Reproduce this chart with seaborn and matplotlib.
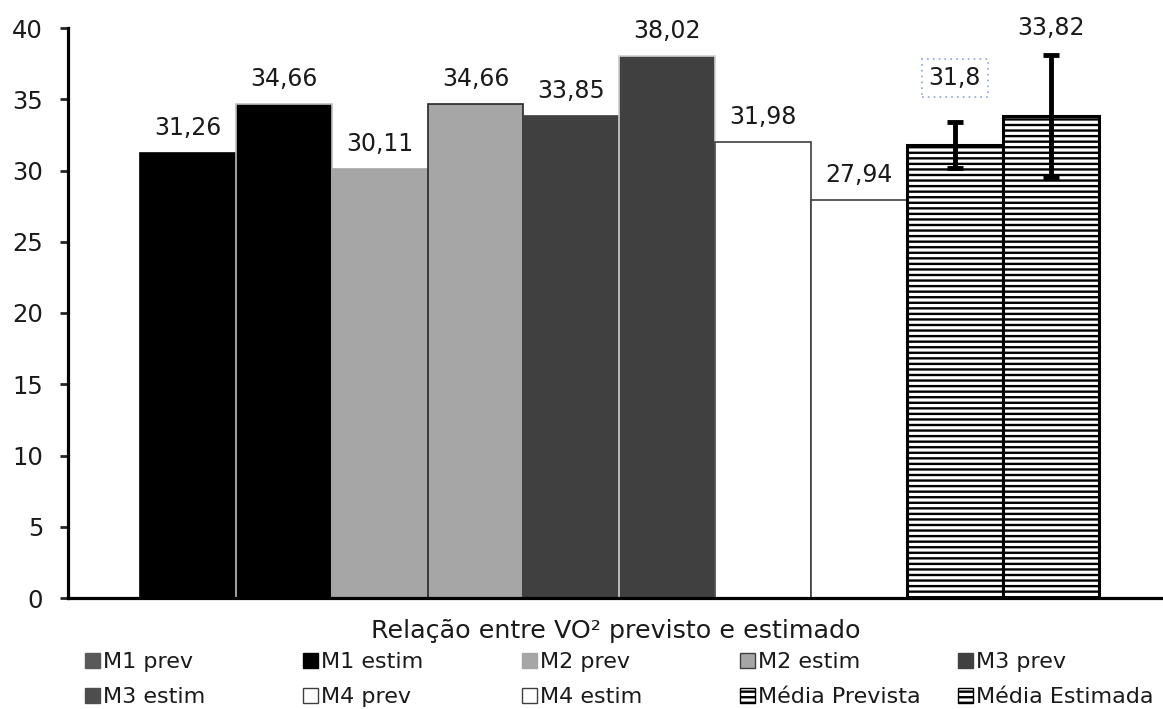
import matplotlib
matplotlib.use("Agg")
import matplotlib.pyplot as plt
import seaborn as sns
import numpy as np
from matplotlib.patches import Patch

# ---- data ----
categories = ["M1 prev", "M1 estim", "M2 prev", "M2 estim", "M3 prev",
              "M3 estim", "M4 prev", "M4 estim", "Média Prevista", "Média Estimada"]
values = [31.26, 34.66, 30.11, 34.66, 33.85, 38.02, 31.98, 27.94, 31.8, 33.82]
errors = [0, 0, 0, 0, 0, 0, 0, 0, 1.6, 4.3]
yticks = [0, 5, 10, 15, 20, 25, 30, 35, 40]
xlabel = "Relação entre VO² previsto e estimado"

# ---- styles ----
bar_colors = ["#000000", "#000000", "#a6a6a6", "#a6a6a6", "#404040",
              "#404040", "#ffffff", "#ffffff", "#ffffff", "#ffffff"]
edge_colors = ["#000000", "#bfbfbf", "#a6a6a6", "#262626", "#404040",
               "#d0d0d0", "#404040", "#404040", "#000000", "#000000"]
hatches = [None] * 8 + ["---", "---"]
legend_colors = ["#595959", "#000000", "#a6a6a6", "#a6a6a6", "#404040",
                 "#4d4d4d", "#ffffff", "#ffffff", "#ffffff", "#ffffff"]
legend_edges = ["#595959", "#000000", "#a6a6a6", "#404040", "#404040",
                "#4d4d4d", "#404040", "#404040", "#000000", "#000000"]

plt.rcParams["hatch.linewidth"] = 1.7
sns.set_style("white")
plt.rcParams["font.family"] = ["DejaVu Sans"]
TXT = "#1a1a1a"

fig = plt.figure(figsize=(11.63, 7.09), dpi=100)
ax = fig.add_axes([68 / 1163, 1 - 598 / 709, 1 - 68 / 1163, 570 / 709])

sns.barplot(x=categories, y=values, hue=categories, palette=bar_colors,
            order=categories, hue_order=categories, legend=False,
            width=1.0, saturation=1, ax=ax, errorbar=None)

for i, p in enumerate(ax.patches[:len(categories)]):
    p.set_edgecolor(edge_colors[i])
    p.set_linewidth(1.2)
    if hatches[i]:
        p.set_hatch(hatches[i])
        p.set_linewidth(2.2)

xpos = np.arange(len(categories))
err = np.array(errors)
mask = err > 0
ax.errorbar(xpos[mask], np.array(values)[mask], yerr=err[mask], fmt="none",
            ecolor="black", elinewidth=3.5, capsize=5.5, capthick=3.5, zorder=5)

for i, (v, e) in enumerate(zip(values, errors)):
    txt = str(v).replace(".", ",")
    off = 3.1 if e > 0 else 1.75
    ypos = min(v + e + off, 40)
    kw = {}
    if 0 < e < 2:
        kw["bbox"] = dict(boxstyle="square,pad=0.3", fc="none",
                          ec="#8aa6d6", ls=(0, (1, 2.5)), lw=1.2)
    ax.text(i, ypos, txt, ha="center", va="center", fontsize=17,
            color=TXT, clip_on=False, **kw)

ax.set_xlim(-1.25, 10.17)
ax.set_ylim(0, 40)
ax.set_yticks(yticks)
ax.set_yticklabels([str(t) for t in yticks], fontsize=17.5, color=TXT)
ax.set_xticks([])
ax.tick_params(axis="y", direction="out", length=6, width=2, pad=12, left=True)
ax.set_ylabel("")
for s in ["top", "right"]:
    ax.spines[s].set_visible(False)
for s in ["left", "bottom"]:
    ax.spines[s].set_linewidth(2.3)
    ax.spines[s].set_color("black")

ax.set_xlabel(xlabel, fontsize=18.3, color=TXT)
ax.xaxis.set_label_coords(0.5, -40 / 570)
ax.xaxis.label.set_va("baseline")

# legend: 5 columns x 2 rows with uniform column spacing
handles = []
for i, c in enumerate(categories):
    handles.append(Patch(facecolor=legend_colors[i], edgecolor=legend_edges[i],
                         hatch=hatches[i], lw=1.0, label=c))
col_x = [85, 303, 522, 740, 958]
for j in range(5):
    leg = fig.legend(handles=[handles[j], handles[j + 5]], loc="upper left",
                     bbox_to_anchor=(col_x[j] / 1163, 1 - 652 / 709),
                     frameon=False, fontsize=16, handlelength=0.68,
                     handleheight=0.68, handletextpad=0.15, labelspacing=0.68,
                     borderpad=0, borderaxespad=0)
    for t in leg.get_texts():
        t.set_color(TXT)

fig.savefig("out.png", dpi=100)
